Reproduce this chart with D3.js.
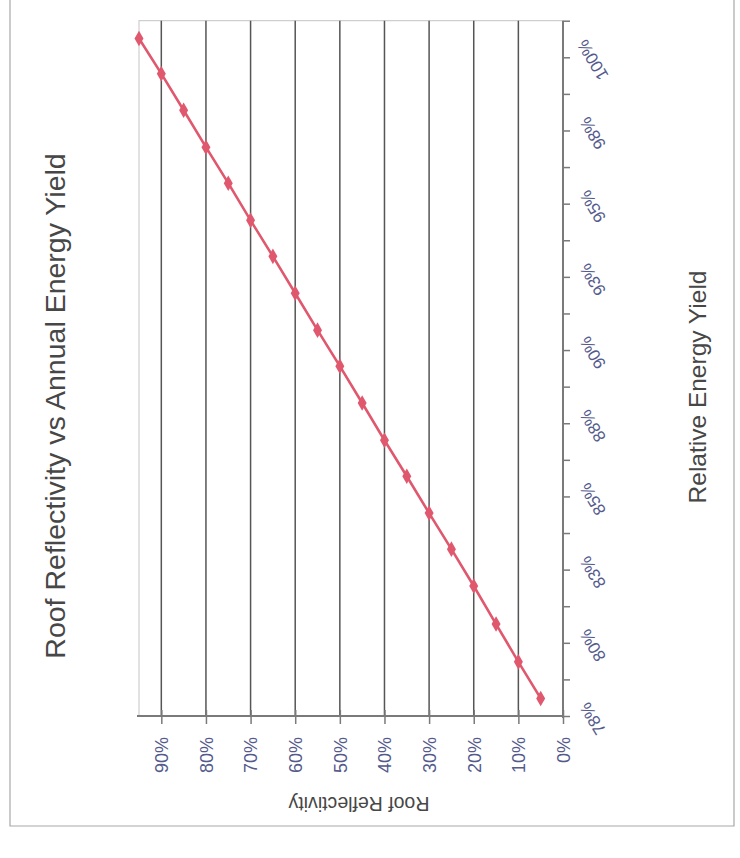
<!DOCTYPE html>
<html>
<head>
<meta charset="utf-8">
<script src="https://cdn.jsdelivr.net/npm/d3@7"></script>
<style>
  html, body { margin: 0; padding: 0; background: #fff; }
  svg { display: block; font-family: "Liberation Sans", Arial, sans-serif; }
</style>
</head>
<body>
<svg id="chart" width="740" height="858"></svg>
<script>
// Roof reflectivity (fraction) and the matching relative annual energy yield
const reflectivity = [0.05, 0.10, 0.15, 0.20, 0.25, 0.30, 0.35, 0.40, 0.45, 0.50,
                      0.55, 0.60, 0.65, 0.70, 0.75, 0.80, 0.85, 0.90, 0.95];
const energyYield = [0.7810, 0.7935, 0.8064, 0.8194, 0.8320, 0.8443, 0.8569, 0.8692, 0.8819, 0.8945,
                     0.9068, 0.9194, 0.9320, 0.9443, 0.9570, 0.9693, 0.9819, 0.9944, 1.0064];

// Axis ticks
const reflTicks = [0, 0.1, 0.2, 0.3, 0.4, 0.5, 0.6, 0.7, 0.8, 0.9];
const reflTickLabels = ["0%", "10%", "20%", "30%", "40%", "50%", "60%", "70%", "80%", "90%"];
const yieldTicks = [0.775, 0.8, 0.825, 0.85, 0.875, 0.9, 0.925, 0.95, 0.975, 1.0];
const yieldTickLabels = ["78%", "80%", "83%", "85%", "88%", "90%", "93%", "95%", "98%", "100%"];
const yieldMinorTicks = [0.7875, 0.8125, 0.8375, 0.8625, 0.8875, 0.9125, 0.9375, 0.9625, 0.9875, 1.0125];

const titleText = "Roof Reflectivity vs Annual Energy Yield";
const reflTitle = "Roof Reflectivity";
const yieldTitle = "Relative Energy Yield";

const svg = d3.select("#chart");

// The chart is laid out turned on its side: reflectivity runs right-to-left
// along the bottom, energy yield runs bottom-to-top on the right.
const x = d3.scaleLinear().domain([0, 0.95]).range([563, 139]);
const y = d3.scaleLinear().domain([0.775, 1.0125]).range([716, 20.7]);

const labelColor = "#545a8c";
const axisColor = "#7a7a7a";

// outer frame
svg.append("path")
  .attr("d", "M10,-2 V826 H734 V-2")
  .attr("fill", "none")
  .attr("stroke", "#a8a8a8")
  .attr("stroke-width", 1.2);

// plot-area border (top and far edge)
svg.append("path")
  .attr("d", `M${x(0.95)},${y(0.775)} V${y(1.0125)} H${x(0)}`)
  .attr("fill", "none")
  .attr("stroke", "#cfcfcf")
  .attr("stroke-width", 1.2);

// gridlines at each reflectivity tick
svg.append("g")
  .selectAll("line")
  .data(reflTicks.filter(d => d > 0))
  .join("line")
  .attr("x1", d => x(d)).attr("x2", d => x(d))
  .attr("y1", y(1.0125)).attr("y2", y(0.775))
  .attr("stroke", "#555")
  .attr("stroke-width", 1.5);

// reflectivity axis (bottom)
const bottomAxis = d3.axisBottom(x)
  .tickValues(reflTicks)
  .tickSize(8)
  .tickFormat((d, i) => reflTickLabels[i]);
const gB = svg.append("g")
  .attr("transform", `translate(0,${y(0.775)})`)
  .call(bottomAxis);
gB.select(".domain")
  .attr("d", `M${x(0.95) - 2},0 H${x(0)}`)
  .attr("stroke", axisColor).attr("stroke-width", 2);
gB.selectAll(".tick line")
  .attr("y1", -6).attr("y2", 8)
  .attr("stroke", axisColor).attr("stroke-width", 1.5);
gB.selectAll(".tick text")
  .attr("transform", "translate(0,21) rotate(-90)")
  .attr("x", 0).attr("y", 0).attr("dy", "0.35em")
  .attr("text-anchor", "end")
  .attr("fill", labelColor)
  .attr("font-size", 18)
  .attr("font-family", "Liberation Sans, Arial, sans-serif");

// energy-yield axis (right)
const rightAxis = d3.axisRight(y)
  .tickValues(yieldTicks.concat(yieldMinorTicks))
  .tickSize(7)
  .tickFormat(d => {
    const i = yieldTicks.indexOf(d);
    return i >= 0 ? yieldTickLabels[i] : "";
  });
const gR = svg.append("g")
  .attr("transform", `translate(${x(0)},0)`)
  .call(rightAxis);
gR.select(".domain")
  .attr("d", `M0,${y(0.775) + 2} V${y(1.0125)}`)
  .attr("stroke", axisColor).attr("stroke-width", 2);
gR.selectAll(".tick line")
  .attr("stroke", axisColor).attr("stroke-width", 1.5);
gR.selectAll(".tick text")
  .attr("x", 0).attr("dy", null)
  .attr("transform", "translate(30,2) rotate(-121)")
  .attr("text-anchor", "middle")
  .attr("dominant-baseline", "central")
  .attr("fill", labelColor)
  .attr("font-size", 17)
  .attr("font-family", "Liberation Sans, Arial, sans-serif");

// data line and diamond markers
const points = reflectivity.map((r, i) => [r, energyYield[i]]);
const lineColor = "#e0586e";
svg.append("path")
  .datum(points)
  .attr("d", d3.line().x(d => x(d[0])).y(d => y(d[1])))
  .attr("fill", "none")
  .attr("stroke", lineColor)
  .attr("stroke-width", 2.6);
svg.append("g")
  .selectAll("path")
  .data(points)
  .join("path")
  .attr("transform", d => `translate(${x(d[0])},${y(d[1])})`)
  .attr("d", d3.symbol(d3.symbolDiamond, 70))
  .attr("fill", lineColor);

// chart title
svg.append("text")
  .attr("transform", "translate(65,406) rotate(-90)")
  .attr("text-anchor", "middle")
  .attr("fill", "#474747")
  .attr("font-size", 28.5)
  .text(titleText);

// energy-yield axis title
svg.append("text")
  .attr("transform", "translate(706,387) rotate(-90)")
  .attr("text-anchor", "middle")
  .attr("fill", "#474747")
  .attr("font-size", 24.5)
  .text(yieldTitle);

// reflectivity axis title (upside down)
svg.append("text")
  .attr("transform", "translate(359,797) rotate(180)")
  .attr("text-anchor", "middle")
  .attr("fill", "#474747")
  .attr("font-size", 19.5)
  .text(reflTitle);
</script>
</body>
</html>
